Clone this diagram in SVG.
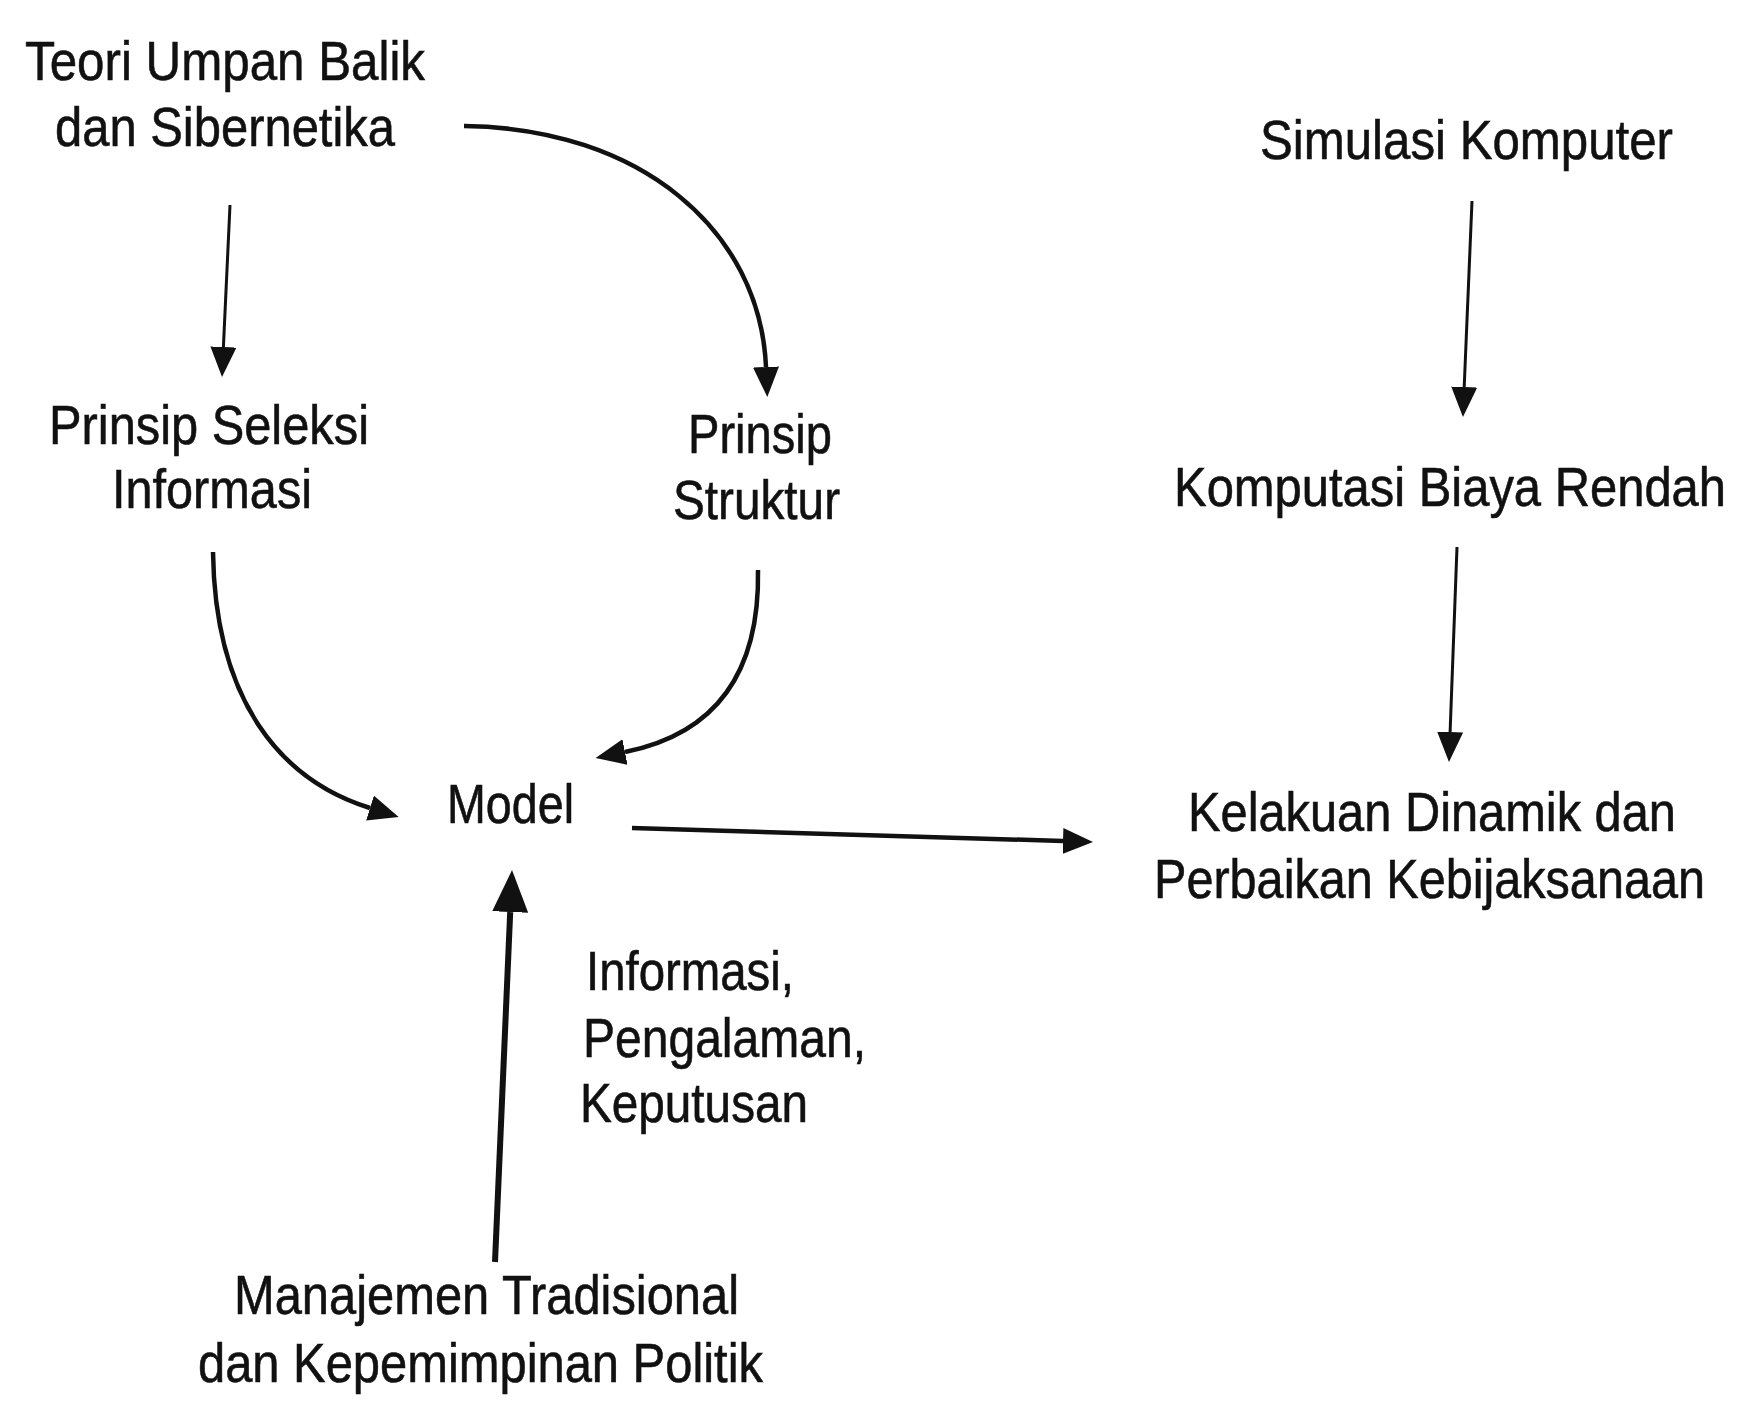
<svg xmlns="http://www.w3.org/2000/svg" width="1750" height="1413" viewBox="0 0 1750 1413">
<style>
  text { font-family: "Liberation Sans", Arial, sans-serif; font-size: 56px; fill: #111; stroke: #111; stroke-width: 0.6; }
  .ln { fill: none; stroke: #111; stroke-linecap: butt; }
  .thin { stroke-width: 3; }
  .mid { stroke-width: 4.5; }
  .thick { stroke-width: 6; }
</style>
<defs>
  <marker id="ah" markerUnits="userSpaceOnUse" viewBox="0 0 30 26" markerWidth="30" markerHeight="26" refX="0" refY="13" orient="auto">
    <path d="M0,0 L30,13 L0,26 z" fill="#111"/>
  </marker>
  <marker id="ahBig" markerUnits="userSpaceOnUse" viewBox="0 0 42 36" markerWidth="42" markerHeight="36" refX="0" refY="18" orient="auto">
    <path d="M0,0 L42,18 L0,36 z" fill="#111"/>
  </marker>
</defs>
<rect x="0" y="0" width="1750" height="1413" fill="#ffffff"/>

<g id="connectors">
  <path id="c-teori-seleksi" class="ln thin" d="M230 205 L223.4 347" marker-end="url(#ah)"/>
  <path id="c-teori-struktur" class="ln mid" d="M464 126 C640 128 760 230 766 367" marker-end="url(#ah)"/>
  <path id="c-seleksi-model" class="ln mid" d="M213 552 C215 700 280 780 370 808" marker-end="url(#ah)"/>
  <path id="c-struktur-model" class="ln mid" d="M758 570 C760 680 710 735 625 752" marker-end="url(#ah)"/>
  <path id="c-model-kelakuan" class="ln mid" d="M632 828 L1063 841" marker-end="url(#ah)"/>
  <path id="c-simulasi-komputasi" class="ln thin" d="M1472 201 L1464.2 387" marker-end="url(#ah)"/>
  <path id="c-komputasi-kelakuan" class="ln thin" d="M1457 547 L1450.1 732" marker-end="url(#ah)"/>
  <path id="c-manajemen-model" class="ln thick" d="M495 1262 L510.2 912" marker-end="url(#ahBig)"/>
</g>

<g id="n-teori">
  <text transform="translate(25 80) scale(0.87 1)" textLength="459.8" lengthAdjust="spacingAndGlyphs">Teori Umpan Balik</text>
  <text transform="translate(55 146) scale(0.87 1)" textLength="390.8" lengthAdjust="spacingAndGlyphs">dan Sibernetika</text>
</g>
<g id="n-simulasi">
  <text transform="translate(1260 159) scale(0.87 1)" textLength="474.7" lengthAdjust="spacingAndGlyphs">Simulasi Komputer</text>
</g>
<g id="n-seleksi">
  <text transform="translate(49 444) scale(0.87 1)" textLength="367.8" lengthAdjust="spacingAndGlyphs">Prinsip Seleksi</text>
  <text transform="translate(112 508) scale(0.87 1)" textLength="229.9" lengthAdjust="spacingAndGlyphs">Informasi</text>
</g>
<g id="n-struktur">
  <text transform="translate(688 453) scale(0.87 1)" textLength="165.5" lengthAdjust="spacingAndGlyphs">Prinsip</text>
  <text transform="translate(673 519) scale(0.87 1)" textLength="192" lengthAdjust="spacingAndGlyphs">Struktur</text>
</g>
<g id="n-komputasi">
  <text transform="translate(1174 506) scale(0.87 1)" textLength="634.5" lengthAdjust="spacingAndGlyphs">Komputasi Biaya Rendah</text>
</g>
<g id="n-model">
  <text transform="translate(447 823) scale(0.87 1)" textLength="146" lengthAdjust="spacingAndGlyphs">Model</text>
</g>
<g id="n-kelakuan">
  <text transform="translate(1188 831) scale(0.87 1)" textLength="560.9" lengthAdjust="spacingAndGlyphs">Kelakuan Dinamik dan</text>
  <text transform="translate(1154 898) scale(0.87 1)" textLength="633.3" lengthAdjust="spacingAndGlyphs">Perbaikan Kebijaksanaan</text>
</g>
<g id="n-label-informasi">
  <text transform="translate(586 990) scale(0.87 1)" textLength="239.1" lengthAdjust="spacingAndGlyphs">Informasi,</text>
  <text transform="translate(583 1057) scale(0.87 1)" textLength="325.3" lengthAdjust="spacingAndGlyphs">Pengalaman,</text>
  <text transform="translate(580 1122) scale(0.87 1)" textLength="262.1" lengthAdjust="spacingAndGlyphs">Keputusan</text>
</g>
<g id="n-manajemen">
  <text transform="translate(234 1314) scale(0.87 1)" textLength="580.5" lengthAdjust="spacingAndGlyphs">Manajemen Tradisional</text>
  <text transform="translate(198 1382) scale(0.87 1)" textLength="649.4" lengthAdjust="spacingAndGlyphs">dan Kepemimpinan Politik</text>
</g>
</svg>
